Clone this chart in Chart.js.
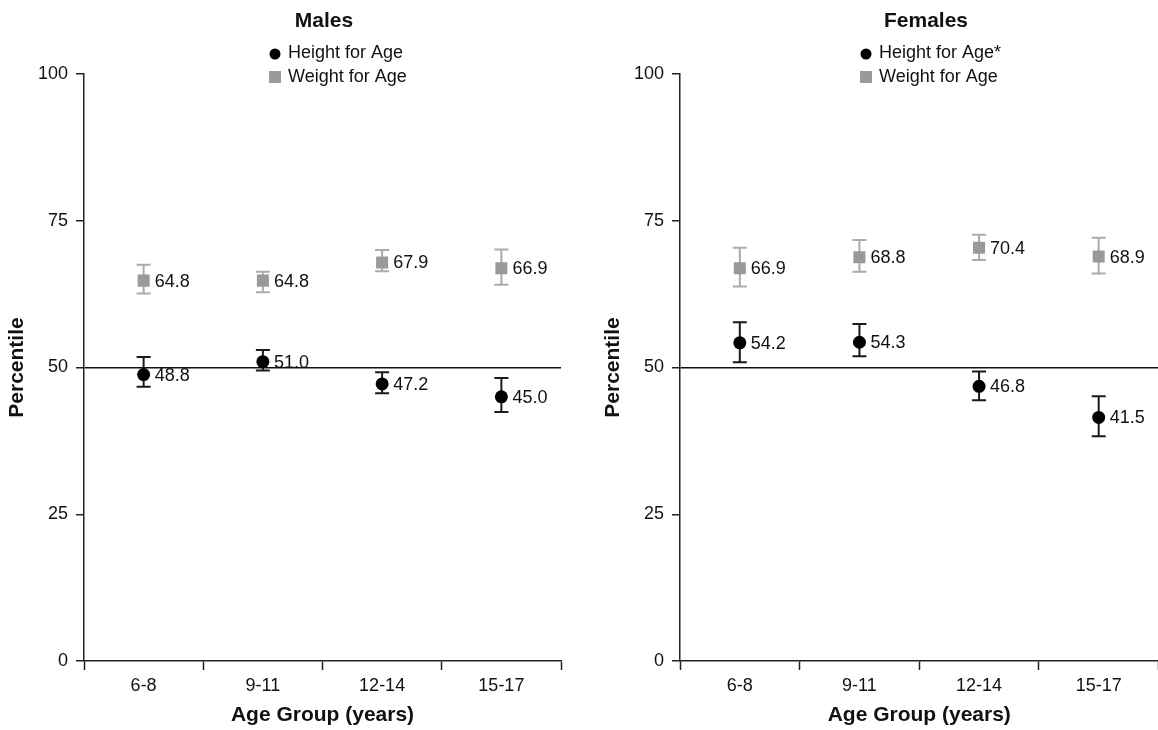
<!DOCTYPE html>
<html>
<head>
<meta charset="utf-8">
<script src="https://cdn.jsdelivr.net/npm/chart.js@4.4.1/dist/chart.umd.min.js"></script>
<style>
  body { margin: 0; background: #fff; overflow: hidden; }
  #wrap { position: relative; width: 1158px; height: 730px; overflow: hidden; }
  #males { position: absolute; left: 0; top: 0; }
  #females { position: absolute; left: 580px; top: 0; }
</style>
</head>
<body>
<div id="wrap">
  <canvas id="males" width="580" height="730"></canvas>
  <canvas id="females" width="587" height="730"></canvas>
</div>
<script>
// Age groups on the x axis
const categories = ['6-8', '9-11', '12-14', '15-17'];
const yTicks = [0, 25, 50, 75, 100];

// Males
const maleHeight = [48.8, 51.0, 47.2, 45.0];
const maleHeightLow = [46.7, 49.5, 45.6, 42.4];
const maleHeightHigh = [51.8, 53.0, 49.2, 48.2];
const maleWeight = [64.8, 64.8, 67.9, 66.9];
const maleWeightLow = [62.6, 62.8, 66.4, 64.1];
const maleWeightHigh = [67.5, 66.3, 70.0, 70.1];

// Females
const femaleHeight = [54.2, 54.3, 46.8, 41.5];
const femaleHeightLow = [50.9, 51.9, 44.4, 38.3];
const femaleHeightHigh = [57.7, 57.4, 49.3, 45.1];
const femaleWeight = [66.9, 68.8, 70.4, 68.9];
const femaleWeightLow = [63.8, 66.3, 68.3, 66.0];
const femaleWeightHigh = [70.4, 71.7, 72.6, 72.1];

Chart.defaults.font.family = "'Liberation Sans', Arial, sans-serif";
Chart.defaults.color = '#111';

const GRAY = '#9a9a9a';
const BAR_GRAY = '#ababab';

// Error bars behind the markers
const errorBars = {
  id: 'errorBars',
  beforeDatasetsDraw(chart) {
    const ctx = chart.ctx;
    const y = chart.scales.y;
    chart.data.datasets.forEach((ds, di) => {
      const meta = chart.getDatasetMeta(di);
      ctx.save();
      ctx.strokeStyle = ds.barColor;
      ctx.lineWidth = 2;
      meta.data.forEach((pt, i) => {
        const top = y.getPixelForValue(ds.high[i]);
        const bot = y.getPixelForValue(ds.low[i]);
        ctx.beginPath();
        ctx.moveTo(pt.x, top); ctx.lineTo(pt.x, bot);
        ctx.moveTo(pt.x - 7, top); ctx.lineTo(pt.x + 7, top);
        ctx.moveTo(pt.x - 7, bot); ctx.lineTo(pt.x + 7, bot);
        ctx.stroke();
      });
      ctx.restore();
    });
  },
  afterDatasetsDraw(chart) {
    // value labels to the right of each marker
    const ctx = chart.ctx;
    ctx.save();
    ctx.font = "18px 'Liberation Sans', Arial, sans-serif";
    ctx.fillStyle = '#111';
    ctx.textAlign = 'left';
    ctx.textBaseline = 'middle';
    chart.data.datasets.forEach((ds, di) => {
      chart.getDatasetMeta(di).data.forEach((pt, i) => {
        ctx.fillText(ds.data[i].toFixed(1), pt.x + 11, pt.y + 1);
      });
    });
    ctx.restore();
  }
};

// Panel title and stacked legend
const panelHeader = {
  id: 'panelHeader',
  afterDraw(chart, args, opts) {
    const ctx = chart.ctx;
    const left = chart.chartArea.left;
    ctx.save();
    ctx.fillStyle = '#111';
    ctx.textBaseline = 'middle';
    ctx.textAlign = 'center';
    ctx.font = "bold 21px 'Liberation Sans', Arial, sans-serif";
    ctx.fillText(opts.text, left + opts.titleShift, 21);

    ctx.textAlign = 'left';
    ctx.font = "18px 'Liberation Sans', Arial, sans-serif";
    const tx = left + opts.legendShift;
    const ds = chart.data.datasets;
    ctx.fillText(ds[0].label, tx, 53);
    ctx.fillText(ds[1].label, tx, 77);
    ctx.fillStyle = '#000';
    ctx.beginPath();
    ctx.arc(tx - 13, 54, 5.5, 0, Math.PI * 2);
    ctx.fill();
    ctx.fillStyle = GRAY;
    ctx.fillRect(tx - 19, 71, 12, 12);
    ctx.restore();
  }
};

function makePanel(id, title, heightLabel, h, hLow, hHigh, w, wLow, wHigh, padLeft, padRight, titleShift, legendShift) {
  return new Chart(document.getElementById(id), {
    type: 'line',
    data: {
      labels: categories,
      datasets: [
        {
          label: heightLabel,
          data: h, low: hLow, high: hHigh,
          showLine: false,
          pointStyle: 'circle',
          pointRadius: 6.5,
          pointBackgroundColor: '#000',
          pointBorderWidth: 0,
          barColor: '#1a1a1a'
        },
        {
          label: 'Weight for Age',
          data: w, low: wLow, high: wHigh,
          showLine: false,
          pointStyle: 'rect',
          pointRadius: 8.5,
          pointBackgroundColor: GRAY,
          pointBorderWidth: 0,
          barColor: BAR_GRAY
        }
      ]
    },
    options: {
      responsive: false,
      animation: false,
      events: [],
      layout: { padding: { left: padLeft, right: padRight, top: 74, bottom: 0 } },
      plugins: {
        legend: { display: false },
        title: { display: false },
        tooltip: { enabled: false },
        panelHeader: { text: title, titleShift: titleShift, legendShift: legendShift }
      },
      scales: {
        x: {
          offset: true,
          grid: { offset: true, drawOnChartArea: false, tickLength: 9, tickColor: '#222', tickWidth: 1.5 },
          border: { color: '#222', width: 1.5 },
          ticks: { padding: 5, font: { size: 18 }, color: '#111' },
          title: {
            display: true, text: 'Age Group (years)', color: '#111',
            font: { size: 21, weight: 'bold' }, padding: { top: 0, bottom: 2 }
          },
          afterFit(scale) { scale.height = 69; }
        },
        y: {
          min: 0, max: 100,
          afterBuildTicks(scale) { scale.ticks = yTicks.map(v => ({ value: v })); },
          grid: {
            drawOnChartArea: true,
            tickLength: 8,
            tickColor: '#222',
            tickWidth: 1.5,
            lineWidth: 1.5,
            // only the 50th percentile reference line across the plot
            color: (c) => (c.tick && c.tick.value === 50 ? '#111' : 'rgba(0,0,0,0)')
          },
          border: { color: '#222', width: 1.5 },
          ticks: { padding: 8, font: { size: 18 }, color: '#111' },
          title: {
            display: true, text: 'Percentile', color: '#111',
            font: { size: 21, weight: 'bold' }, padding: { top: 5, bottom: 0 }
          },
          afterFit(scale) { scale.width = 84; }
        }
      }
    },
    plugins: [errorBars, panelHeader]
  });
}

makePanel('males', 'Males', 'Height for Age',
  maleHeight, maleHeightLow, maleHeightHigh,
  maleWeight, maleWeightLow, maleWeightHigh, 0, 19, 240, 204);

makePanel('females', 'Females', 'Height for Age*',
  femaleHeight, femaleHeightLow, femaleHeightHigh,
  femaleWeight, femaleWeightLow, femaleWeightHigh, 16, 0, 246, 199);
</script>
</body>
</html>
